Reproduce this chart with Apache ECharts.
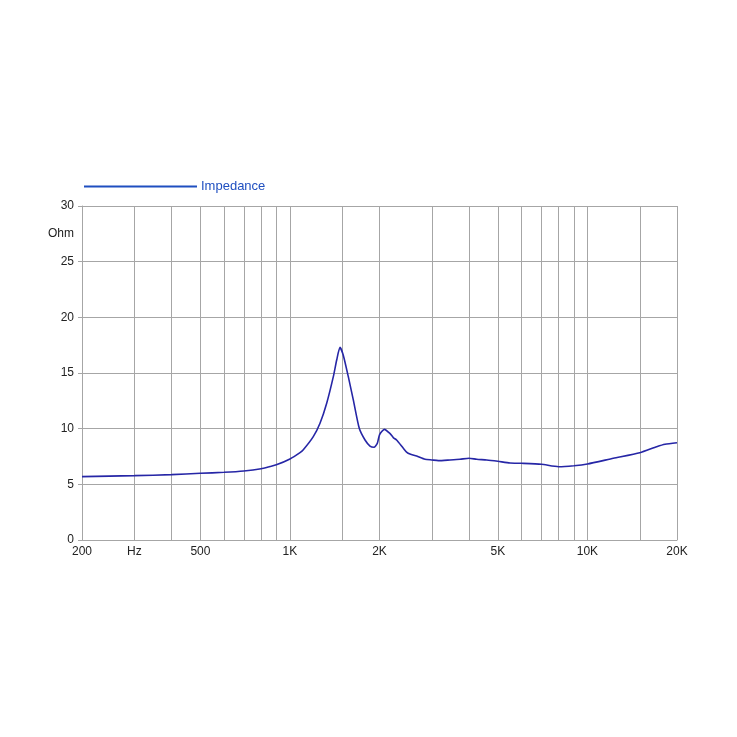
<!DOCTYPE html>
<html>
<head>
<meta charset="utf-8">
<script src="https://cdn.jsdelivr.net/npm/echarts@6/dist/echarts.min.js"></script>
<style>html,body{margin:0;padding:0;background:#fff;}#c{width:737px;height:737px;}</style>
</head>
<body>
<div id="c"></div>
<script>
const freqs = [200,300,400,500,600,700,800,857,900,1000,1081,1109,1198,1262,1329,1399,1436,1473,1511,1571,1633,1710,1788,1858,1916,1966,2000,2076,2167,2225,2283,2405,2466,2532,2667,2845,3000,3153,3452,3730,4000,4244,4586,5000,5491,6000,7000,8000,9000,10000,12220,15000,17090,18230,20000];
const impedance = [5.69,5.78,5.87,5.99,6.08,6.2,6.4,6.6,6.75,7.28,7.85,8.1,9.28,10.48,12.28,14.67,16.17,17.3,16.6,14.67,12.58,10.03,8.98,8.44,8.33,8.68,9.45,9.94,9.58,9.2,8.98,8.24,7.9,7.72,7.54,7.25,7.19,7.13,7.19,7.25,7.34,7.25,7.19,7.07,6.92,6.89,6.8,6.58,6.67,6.83,7.34,7.84,8.38,8.6,8.74];
const gridFreqs = [200,300,400,500,600,700,800,900,1000,1500,2000,3000,4000,5000,6000,7000,8000,9000,10000,15000,20000];
const labelFreqs = [200,300,500,1000,2000,5000,10000,20000];
const labelTexts = ['200','Hz','500','1K','2K','5K','10K','20K'];

const chart = echarts.init(document.getElementById('c'));
const data = freqs.map((f,i)=>[f, impedance[i]]);
const gray = '#a6a6a6';
chart.setOption({
  animation:false,
  textStyle:{fontFamily:'Liberation Sans, Arial, sans-serif'},
  grid:{left:82,right:60,top:206,bottom:197,containLabel:false},
  legend:{
    left:79, top:175, icon:'rect', itemWidth:113, itemHeight:2, itemGap:4,
    textStyle:{color:'#1f4fc0',fontSize:13,fontFamily:'Liberation Sans, Arial, sans-serif', padding:[0,0,0,-1]},
    itemStyle:{color:'#1f4fc0'},
    data:['Impedance']
  },
  xAxis:{
    type:'log', logBase:10, min:200, max:20000,
    axisLine:{show:true,lineStyle:{color:gray,width:1}},
    axisTick:{show:false, customValues:gridFreqs},
    axisLabel:{
      customValues:labelFreqs, color:'#222', fontSize:12, margin:6,
      formatter:function(v){const i=labelFreqs.findIndex(f=>Math.abs(f-v)/f<0.01);return i>=0?labelTexts[i]:'';}
    },
    splitLine:{show:true,lineStyle:{color:gray,width:1}}
  },
  yAxis:{
    type:'value', min:0, max:30, interval:5,
    name:'Ohm', nameLocation:'end', nameGap:-34,
    nameTextStyle:{color:'#222',fontSize:12,align:'right',padding:[0,8,0,0]},
    axisLine:{show:true,lineStyle:{color:gray,width:1}},
    axisTick:{show:true,length:4,lineStyle:{color:gray}},
    axisLabel:{color:'#222',fontSize:12,margin:8},
    splitLine:{show:true,lineStyle:{color:gray,width:1}}
  },
  series:[{
    name:'Impedance', type:'line', data:data, showSymbol:false, smooth:0.2,
    lineStyle:{color:'#2626a6',width:1.6}, itemStyle:{color:'#2626a6'}
  }]
});
</script>
</body>
</html>
